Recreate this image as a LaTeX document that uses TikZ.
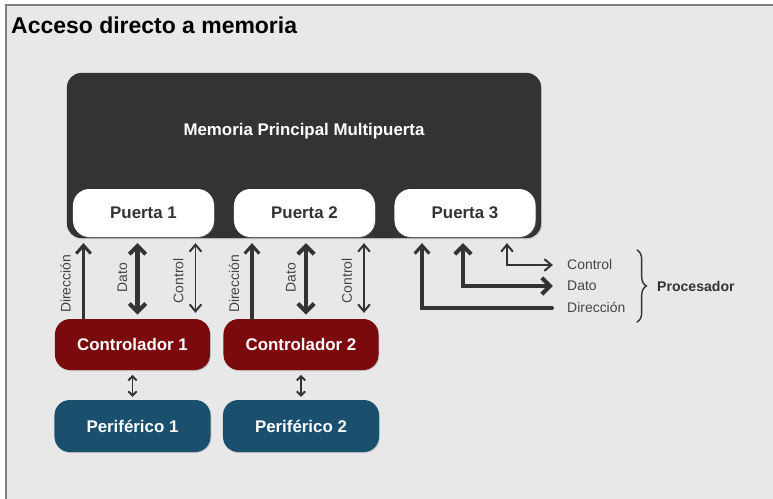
\documentclass[tikz,border=0pt]{standalone}
\usepackage{fontspec}
\setmainfont{Liberation Sans}
\usetikzlibrary{arrows.meta,calc,decorations.pathreplacing,shadows}

\definecolor{fondo}{HTML}{E8E8E8}
\definecolor{marco}{HTML}{808080}
\definecolor{oscuro}{HTML}{333333}
\definecolor{rojo}{HTML}{7A0A0E}
\definecolor{azul}{HTML}{1B4F6E}
\definecolor{texto}{HTML}{444444}

\tikzset{
  caja/.style={rounded corners=12pt, inner sep=0pt, font=\fontsize{14.4}{16}\selectfont\bfseries,
    drop shadow={shadow xshift=0.7pt, shadow yshift=-0.9pt, opacity=0.3}},
  memoria/.style={caja, fill=oscuro, minimum width=14.22cm, minimum height=4.95cm},
  puerta/.style={caja, rounded corners=14pt, fill=white, text=oscuro, minimum width=4.23cm, minimum height=1.44cm, drop shadow={opacity=0}},
  controlador/.style={caja, rounded corners=13pt, fill=rojo, text=white, minimum width=4.65cm, minimum height=1.53cm},
  periferico/.style={caja, rounded corners=13pt, fill=azul, text=white, minimum width=4.68cm, minimum height=1.56cm},
  etiq/.style={inner sep=0pt, text=texto, font=\fontsize{11.9}{13}\selectfont},
  bdir/.style={draw=oscuro, line width=2.6pt, -{Straight Barb[length=7pt,width=12.5pt]}},
  bdat/.style={draw=oscuro, line width=3.5pt, {Straight Barb[length=7pt,width=14pt]}-{Straight Barb[length=7pt,width=14pt]}},
  bctl/.style={draw=oscuro, line width=1.7pt, {Straight Barb[length=6pt,width=10pt]}-{Straight Barb[length=6pt,width=10pt]}},
  flechita/.style={draw=oscuro, line width=1.7pt, {Straight Barb[length=3.5pt,width=7pt]}-{Straight Barb[length=3.5pt,width=7pt]}},
}

\begin{document}
\begin{tikzpicture}[x=0.03cm,y=-0.03cm,line cap=round]
  % background and frame
  \useasboundingbox (0,0) rectangle (773,499);
  \fill[marco] (5,4) rectangle (773,499);
  \fill[fondo] (7,6) rectangle (773,499);
  \node[anchor=base west, inner sep=0pt, font=\fontsize{19.6}{22}\selectfont\bfseries] (titulo) at (11,33) {Acceso directo a memoria};

  % multiport memory
  \node[memoria] (mem) at (304,155.5) {};
  \node[text=white, font=\fontsize{14.4}{16}\selectfont\bfseries] (memtxt) at (304,131) {Memoria Principal Multipuerta};

  % ports
  \foreach \i/\px in {1/143.5,2/304.5,3/465}
    \node[puerta] (pu\i) at (\px,213) {Puerta \i};

  % controllers, peripherals and their buses
  \foreach \i/\px in {1/132.5,2/301}{
    \node[controlador] (ctl\i) at (\px,344.5) {Controlador \i};
    \node[periferico] (per\i) at (\px,426) {Periférico \i};
    \draw[flechita, shorten <=4pt, shorten >=2.5pt] (ctl\i) -- (per\i);
    \coordinate (d\i) at ($(ctl\i.north)+(-49,0)$);
    \coordinate (t\i) at ($(ctl\i.north)+(5,0)$);
    \coordinate (c\i) at ($(ctl\i.north)+(63,0)$);
    \draw[bdir, shorten >=5pt] (d\i) -- (d\i |- pu\i.south);
    \draw[bdat, shorten >=5pt, shorten <=3.5pt] (t\i) -- (t\i |- pu\i.south);
    \draw[bctl, shorten >=5pt, shorten <=5pt] (c\i) -- (c\i |- pu\i.south);
    \node[etiq, rotate=90] (ldir\i) at ($(ctl\i.north)+(-67,-35)$) {Dirección};
    \node[etiq, rotate=90] (ldat\i) at ($(ctl\i.north)+(-10,-41)$) {Dato};
    \node[etiq, rotate=90] (lctl\i) at ($(ctl\i.north)+(46,-38)$) {Control};
  }

  % processor side of port 3
  \node[etiq, anchor=west] (lpctl) at (567,265) {Control};
  \node[etiq, anchor=west] (lpdat) at (567,286) {Dato};
  \node[etiq, anchor=west] (lpdir) at (567,307) {Dirección};
  \draw[bdir, shorten <=12.5pt, shorten >=5pt] ($(lpdir.west)+(0,1)$) -| ($(pu3.south)+(-43,0)$);
  \draw[bdat, shorten <=5pt, shorten >=12pt] ($(pu3.south)+(-2,0)$) |- (lpdat.west);
  \draw[bctl, shorten <=5pt, shorten >=12pt] ($(pu3.south)+(42,0)$) |- (lpctl.west);

  \node[anchor=west, inner sep=0pt, font=\fontsize{12}{14}\selectfont\bfseries, text=oscuro] (proc) at (657,286) {Procesador};
  \draw[oscuro, line width=1.2pt, decorate, decoration={brace, amplitude=8pt}]
    ($(proc.west)+(-20,-36)$) -- ($(proc.west)+(-20,36)$);
\end{tikzpicture}
\end{document}
